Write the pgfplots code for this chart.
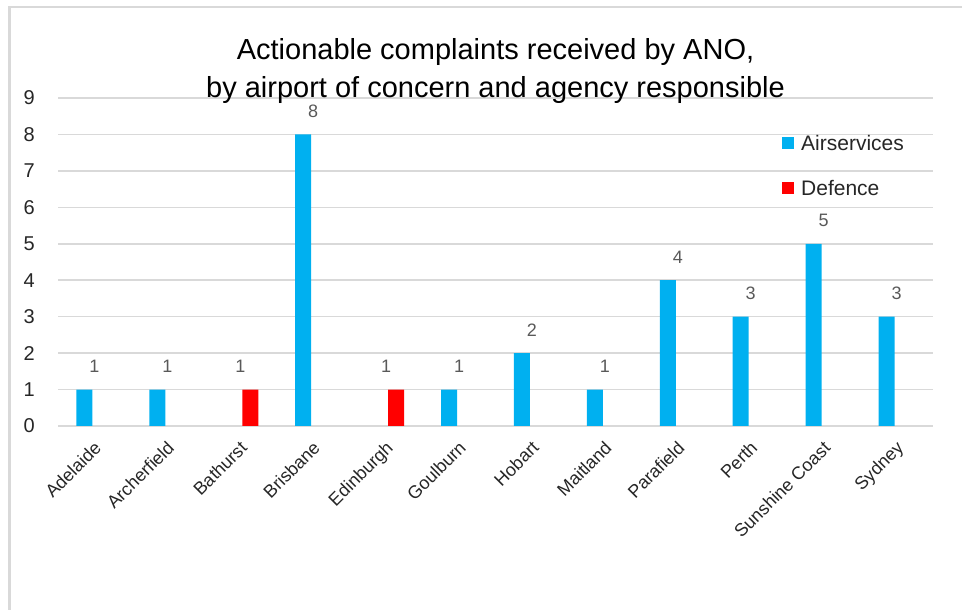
\documentclass[border=0pt]{standalone}
\usepackage{fontspec}
\setmainfont{Liberation Sans}
\usepackage{pgfplots}
\pgfplotsset{compat=1.18}
\definecolor{air}{HTML}{00B0F0}
\definecolor{def}{HTML}{FF0000}
\definecolor{gridc}{HTML}{D9D9D9}
\definecolor{lab}{HTML}{595959}
\definecolor{txt}{HTML}{262626}
\begin{document}
\begin{tikzpicture}
\path[use as bounding box] (0pt,0pt) rectangle (962pt,610pt);
\draw[gridc, line width=2.5pt] (9.5pt,0pt) -- (9.5pt,603pt) -- (962pt,603pt);
\begin{axis}[
  at={(58pt,184pt)}, anchor=south west, scale only axis,
  width=875pt, height=328pt,
  xmin=-0.5, xmax=11.5, ymin=0, ymax=9,
  ytick={0,...,9}, xtick={0,...,11},
  /pgf/number format/assume math mode=true,
  xticklabels={Adelaide,Archerfield,Bathurst,Brisbane,Edinburgh,Goulburn,Hobart,Maitland,Parafield,Perth,Sunshine Coast,Sydney},
  axis line style={draw=none}, major tick length=0pt, tick style={draw=none},
  ymajorgrids, grid style={gridc, line width=1.6pt},
  yticklabel style={font=\fontsize{20}{24}\selectfont, text=txt, inner sep=0pt, anchor=east, xshift=-23pt},
  xticklabel style={font=\fontsize{18}{20}\selectfont, text=txt, inner sep=0pt, xshift=8pt, yshift=-23pt, rotate=45, anchor=base east},
  title={Actionable complaints received by ANO,\\by airport of concern and agency responsible},
  title style={at={(0.5,1)}, anchor=south, yshift=-12pt, inner sep=0pt, align=center, font=\fontsize{29}{38}\selectfont, text=black},
  nodes near coords,
  nodes near coords style={font=\fontsize{18}{22}\selectfont, text=lab, inner sep=0pt, anchor=base, yshift=17pt},
  legend style={at={(0.8274,0.885)}, anchor=north west, draw=none, fill=none, inner sep=0pt,
    row sep=30.3pt, column sep=7pt, font=\fontsize{21}{24}\selectfont, text=txt,
    nodes={inner sep=0pt, text height=14.7pt, text depth=0pt}},
  legend cell align=left,
  legend image code/.code={\fill[#1] (0pt,-6pt) rectangle (12pt,6pt);},
]
\addplot[ybar, bar width=16pt, bar shift=-10pt, fill=air, draw=none]
  coordinates {(0,1) (1,1) (3,8) (5,1) (6,2) (7,1) (8,4) (9,3) (10,5) (11,3)};
\addlegendentry{Airservices}
\addplot[ybar, bar width=16pt, bar shift=10pt, fill=def, draw=none]
  coordinates {(2,1) (4,1)};
\addlegendentry{Defence}
\end{axis}
\end{tikzpicture}
\end{document}
